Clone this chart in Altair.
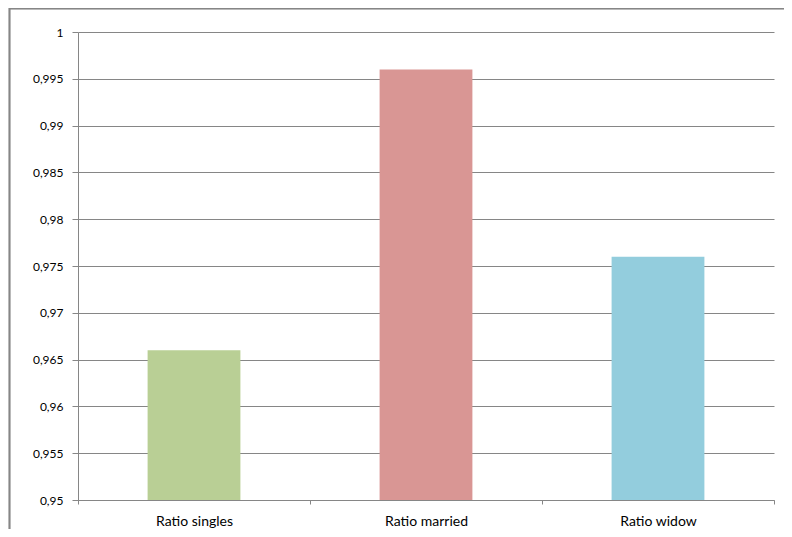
import altair as alt
import pandas as pd

categories = ["Ratio singles", "Ratio married", "Ratio widow"]
values = [0.966, 0.996, 0.976]
colors = ["#B9CF95", "#D99694", "#93CDDD"]
y_ticks = [0.95, 0.955, 0.96, 0.965, 0.97, 0.975, 0.98, 0.985, 0.99, 0.995, 1.0]

df = pd.DataFrame({"cat": categories, "val": values, "color": colors})

W, H = 696, 468
FONT = "Lato"

bars = alt.Chart(df).mark_bar(width={"band": 0.4}, clip=True).encode(
    x=alt.X("cat:N", sort=categories, title=None,
            scale=alt.Scale(paddingInner=0, paddingOuter=0),
            axis=alt.Axis(labelAngle=0, tickBand="extent", tickSize=4,
                          tickColor="#868686", domainColor="#868686",
                          labelColor="#000000", labelFont=FONT, labelFontSize=14,
                          labelPadding=10, grid=False)),
    y=alt.Y("val:Q", title=None,
            scale=alt.Scale(domain=[0.95, 1.0], zero=False, nice=False),
            axis=alt.Axis(values=y_ticks, tickSize=6, tickColor="#868686",
                          domainColor="#868686", gridColor="#868686",
                          gridWidth=1, labelColor="#000000", labelFont=FONT,
                          labelFontSize=12, labelPadding=9,
                          labelExpr="replace(format(datum.value, '.3~f'), '.', ',')")),
    y2=alt.datum(0.95),
    color=alt.Color("color:N", scale=None),
)

border = alt.Chart(df).mark_rect(fill=None, stroke="#868686", strokeWidth=1.5, clip=False).encode(
    x=alt.value(-68.5), x2=alt.value(W + 30),
    y=alt.value(-23.5), y2=alt.value(H + 60),
)

chart = alt.layer(border, bars).properties(
    width=W, height=H,
    autosize=alt.AutoSizeParams(type="none"),
    padding={"left": 70, "top": 24, "right": 10, "bottom": 29},
).configure_view(stroke=None)

chart.save("out.html", embed_options={"renderer": "svg", "actions": False})
